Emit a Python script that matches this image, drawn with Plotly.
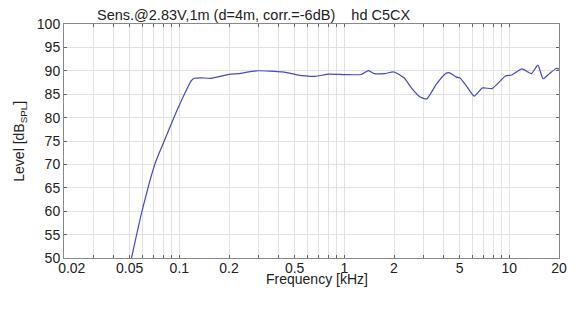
import plotly.graph_objects as go
import numpy as np

# Frequency response (kHz, dB SPL)
freq_khz = [0.0513, 0.0593, 0.0713, 0.0817, 0.0937, 0.105, 0.1177, 0.123, 0.135, 0.155,
            0.204, 0.228, 0.294, 0.423, 0.508, 0.582, 0.668, 0.802, 1.007, 1.267,
            1.40, 1.52, 1.75, 2.0, 2.30, 2.57, 2.88, 3.16, 3.62, 4.15,
            4.35, 4.77, 5.0, 5.46, 6.12, 6.87, 7.87, 8.63, 9.46, 10.35,
            11.9, 13.6, 14.9, 16.0, 17.5, 19.2, 20.0]
level_db = [50.0, 59.9, 70.2, 75.3, 80.4, 84.3, 87.8, 88.4, 88.5, 88.4,
            89.3, 89.4, 90.0, 89.75, 89.2, 88.9, 88.8, 89.3, 89.2, 89.2,
            90.05, 89.4, 89.4, 89.75, 88.5, 86.2, 84.4, 84.0, 87.2, 89.5,
            89.55, 88.65, 88.5, 86.9, 84.6, 86.35, 86.2, 87.5, 88.9, 89.1,
            90.4, 89.4, 91.2, 88.3, 89.4, 90.5, 90.4]

# x-axis grid positions and labels
x_grid = [0.02, 0.03, 0.04, 0.05, 0.06, 0.07, 0.08, 0.09,
          0.1, 0.2, 0.3, 0.4, 0.5, 0.6, 0.7, 0.8, 0.9,
          1, 2, 3, 4, 5, 6, 7, 8, 9, 10, 20]
x_labels = {0.02: "\u00a0\u00a0\u00a0\u00a00.02", 0.05: "0.05", 0.1: "0.1",
            0.2: "0.2", 0.5: "0.5", 1: "1", 2: "2", 5: "5", 10: "10", 20: "20"}
y_ticks = [50, 55, 60, 65, 70, 75, 80, 85, 90, 95, 100]

title_text = "Sens.@2.83V,1m (d=4m, corr.=-6dB)    hd C5CX"
x_title = "Frequency [kHz]"
y_title = "Level [dB<sub>SPL</sub>]"

font = "Liberation Sans, Arial, sans-serif"
L, R, T, B = 64, 567, 24, 258   # plot area edges in px
PW, PH = R - L, B - T

fig = go.Figure()
fig.add_trace(go.Scatter(
    x=freq_khz, y=level_db, mode="lines",
    line=dict(color="#4848c4", width=1.2, shape="spline", smoothing=0.5),
    hoverinfo="skip", showlegend=False,
))

fig.update_layout(
    width=577, height=313,
    margin=dict(l=L, r=577 - R, t=T, b=313 - B),
    paper_bgcolor="white", plot_bgcolor="white",
    font=dict(family=font, size=14, color="#222"),
    annotations=[
        dict(text=title_text, xref="paper", yref="paper",
             x=(95 - L) / PW, y=1 + (T - 15) / PH, xanchor="left", yanchor="middle",
             showarrow=False, font=dict(family=font, size=14.5, color="#222")),
        dict(text=x_title, xref="paper", yref="paper",
             x=(321 - L) / PW, y=-(279 - B) / PH, xanchor="center", yanchor="middle",
             showarrow=False, font=dict(family=font, size=14, color="#222")),
        dict(text=y_title, xref="paper", yref="paper", textangle=-90,
             x=(19 - L) / PW, y=0.5, xanchor="center", yanchor="middle",
             showarrow=False, font=dict(family=font, size=14, color="#222")),
    ],
)

fig.update_xaxes(
    type="log", range=[np.log10(0.02), np.log10(20)],
    tickmode="array", tickvals=x_grid,
    ticktext=[x_labels.get(v, "") for v in x_grid],
    ticks="inside", ticklen=3, tickcolor="#666",
    ticklabelstandoff=-3,
    showgrid=True, gridcolor="#e2e2e2", gridwidth=1,
    showline=True, linecolor="#888", linewidth=1, mirror="ticks",
    zeroline=False,
    tickfont=dict(size=14),
)
fig.update_yaxes(
    range=[50, 100], tickmode="array", tickvals=y_ticks,
    ticks="inside", ticklen=3, tickcolor="#666",
    showgrid=True, gridcolor="#e2e2e2", gridwidth=1,
    showline=True, linecolor="#888", linewidth=1, mirror="ticks",
    zeroline=False,
    tickfont=dict(size=14),
)

fig.write_html("out.html",
               config={"displayModeBar": False, "staticPlot": True},
               post_script="document.body.style.margin='0';document.body.style.overflow='hidden';")
